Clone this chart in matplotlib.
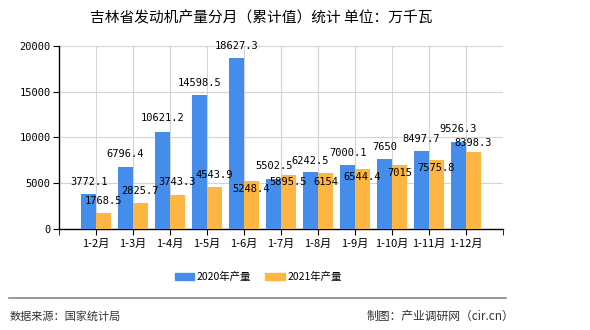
import numpy as np
import matplotlib
matplotlib.use('Agg')
import matplotlib.pyplot as plt
from matplotlib.patches import Patch

plt.rcParams['font.family'] = ['Noto Sans CJK SC', 'DejaVu Sans']

# データ
months = ['1-2月', '1-3月', '1-4月', '1-5月', '1-6月', '1-7月', '1-8月', '1-9月', '1-10月', '1-11月', '1-12月']
val_2020 = [3772.1, 6796.4, 10621.2, 14598.5, 18627.3, 5502.5, 6242.5, 7000.1, 7650, 8497.7, 9526.3]
val_2021 = [1768.5, 2825.7, 3743.3, 4543.9, 5248.4, 5895.5, 6154, 6544.4, 7015, 7575.8, 8398.3]
lab_2020 = ['3772.1', '6796.4', '10621.2', '14598.5', '18627.3', '5502.5', '6242.5', '7000.1', '7650', '8497.7', '9526.3']
lab_2021 = ['1768.5', '2825.7', '3743.3', '4543.9', '5248.4', '5895.5', '6154', '6544.4', '7015', '7575.8', '8398.3']
yticks = [0, 5000, 10000, 15000, 20000]

# ラベルの縦方向のずらし量 [px]（重なり回避のため元図に合わせる）
off_2020 = [12, 13, 14, 12, 12, 13, 11, 12, 12, 12, 13]
off_2021 = [12, 12, 13, 12, -8, -7, -9, -8, -8, -8, 9]

c_2020 = '#448dea'
c_2021 = '#fdb543'

fig = plt.figure(figsize=(5.9, 3.3), dpi=100)
ax = fig.add_axes([0.1, 0.306, 0.7525, 0.555])

x = np.arange(1, len(months) + 1)
w = 0.4
ax.bar(x - w / 2, val_2020, w, color=c_2020, zorder=3)
ax.bar(x + w / 2, val_2021, w, color=c_2021, zorder=3)

# 数値ラベル
for xi, v, s, o in zip(x, val_2020, lab_2020, off_2020):
    ax.annotate(s, (xi - w / 2, v), xytext=(0, o), textcoords='offset pixels',
                ha='center', va='center', fontsize=7.5, family='DejaVu Sans Mono', zorder=4)
for xi, v, s, o in zip(x, val_2021, lab_2021, off_2021):
    ax.annotate(s, (xi + w / 2, v), xytext=(0, o), textcoords='offset pixels',
                ha='center', va='center', fontsize=7.5, family='DejaVu Sans Mono', zorder=4)

ax.set_xlim(0, 12)
ax.set_ylim(0, 20000)
ax.set_yticks(yticks)
ax.set_yticklabels([str(t) for t in yticks], fontsize=7.5, family='DejaVu Sans Mono')
ax.set_xticks(x)
ax.set_xticklabels(months, fontsize=8)
ax.set_xticks(np.arange(0, 13), minor=True)
ax.tick_params(axis='x', which='major', length=4, color='black', pad=3)
ax.tick_params(axis='x', which='minor', length=4, color='black')
ax.tick_params(axis='y', length=4, color='black', pad=2)

ax.grid(True, which='major', axis='y', color='#d4d4d4', linewidth=0.8, zorder=0)
for gx in range(1, 13):
    ax.axvline(gx, color='#d4d4d4', linewidth=0.8, zorder=0)
ax.spines['top'].set_visible(False)
ax.spines['right'].set_visible(False)
ax.spines['left'].set_linewidth(1)
ax.spines['bottom'].set_linewidth(1)

fig.text(0.442, 0.945, '吉林省发动机产量分月（累计值）统计 单位：万千瓦',
         ha='center', va='center', fontsize=10.6)

handles = [Patch(color=c_2020, label='2020年产量'), Patch(color=c_2021, label='2021年产量')]
fig.legend(handles=handles, loc='center', bbox_to_anchor=(0.438, 0.16), ncol=2,
           frameon=False, fontsize=7.5, handlelength=1.85, handleheight=0.75,
           columnspacing=1.35, handletextpad=0.3)

fig.add_artist(plt.Line2D([0.016, 0.858], [0.097, 0.097], color='#888888', linewidth=1.2))
fig.text(0.017, 0.04, '数据来源：国家统计局', ha='left', va='center', fontsize=8, color='#333333')
fig.text(0.872, 0.04, '制图：产业调研网（cir.cn）', ha='right', va='center', fontsize=8.5, color='#333333')

fig.savefig('out.png', dpi=100)
